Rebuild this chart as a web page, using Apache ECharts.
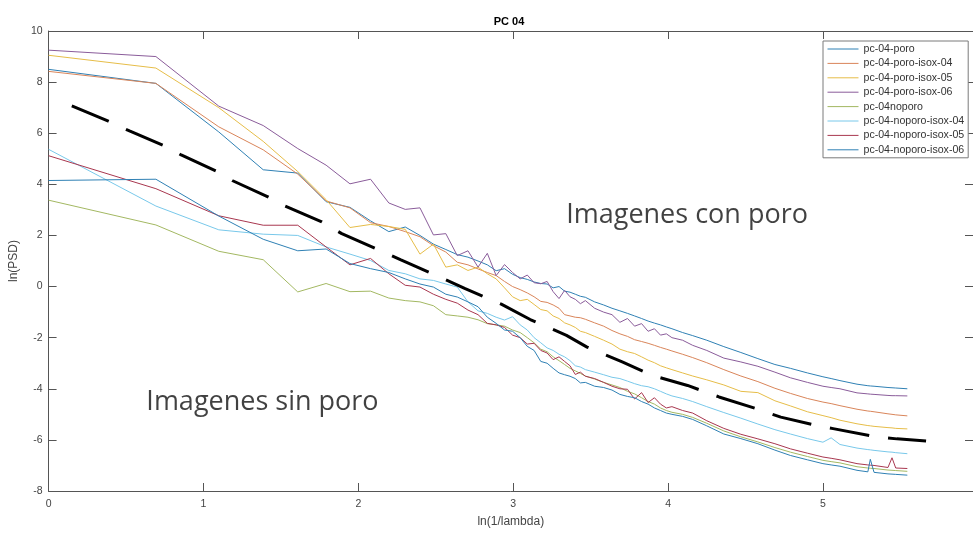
<!DOCTYPE html>
<html>
<head>
<meta charset="utf-8">
<script src="https://cdn.jsdelivr.net/npm/echarts@6/dist/echarts.min.js"></script>
<style>
html,body{margin:0;padding:0;background:#fff;}
#chart{width:973px;height:533px;}
</style>
</head>
<body>
<div id="chart"></div>
<script>
// x positions: ln(1/lambda)
const xs = [0, 0.693, 1.099, 1.386, 1.609, 1.792, 1.946, 2.079, 2.197, 2.303,
  2.398, 2.485, 2.565, 2.639, 2.708, 2.773, 2.833, 2.890, 2.944, 2.996,
  3.045, 3.091, 3.135, 3.178, 3.219, 3.258, 3.296, 3.332, 3.367, 3.401, 3.434, 3.466,
  3.526, 3.584, 3.638, 3.689, 3.738, 3.784, 3.829, 3.871, 3.912, 3.951, 3.989, 4.025, 4.094, 4.159,
  4.25, 4.36, 4.47, 4.58, 4.69, 4.79, 4.90, 5.0, 5.053, 5.11, 5.22, 5.29, 5.306, 5.33, 5.42, 5.446, 5.47, 5.545];

const poro = [8.5, 7.95, 6.05, 4.57, 4.44, 3.32, 3.1, 2.57, 2.15, 2.33,
  2.0, 1.66, 1.45, 1.25, 1.15, 1.0, 0.85, 0.62, 0.7, 0.48,
  0.35, 0.28, 0.18, 0.12, 0.1, -0.05, 0.0, -0.18, -0.22, -0.3, -0.38, -0.42,
  -0.6, -0.72, -0.85, -0.95, -1.05, -1.15, -1.25, -1.35, -1.43, -1.5, -1.58, -1.65, -1.8, -1.92,
  -2.1, -2.35, -2.58, -2.82, -3.05, -3.2, -3.38, -3.53, -3.6, -3.68, -3.82, -3.88, -3.89, -3.9, -3.95, -3.96, -3.97, -4.0];

const poroIsox04 = [8.42, 7.95, 6.25, 5.35, 4.4, 3.35, 3.08, 2.5, 2.35, 2.15,
  1.95, 1.6, 1.35, 0.95, 0.85, 0.69, 0.55, 0.43, 0.2, 0.0,
  -0.12, -0.25, -0.4, -0.58, -0.62, -0.72, -0.85, -1.1, -1.15, -1.2, -1.22, -1.28,
  -1.42, -1.55, -1.72, -1.85, -1.95, -2.08, -2.15, -2.22, -2.3, -2.38, -2.45, -2.52, -2.65, -2.78,
  -2.98, -3.25, -3.5, -3.72, -3.98, -4.18, -4.38, -4.52, -4.58, -4.66, -4.8, -4.87, -4.88, -4.9, -4.98, -5.0, -5.02, -5.06];

const poroIsox05 = [9.05, 8.55, 7.0, 5.68, 4.5, 3.4, 2.31, 2.43, 2.35, 2.24,
  1.27, 1.66, 0.76, 0.85, 0.63, 0.76, 0.5, 0.3, -0.05, -0.4,
  -0.55, -0.5, -0.7, -0.9, -0.95, -1.15, -1.25, -1.42, -1.5, -1.6, -1.75, -1.8,
  -1.95, -2.1, -2.25, -2.45, -2.55, -2.62, -2.75, -2.88, -2.98, -3.1, -3.18, -3.25, -3.38, -3.5,
  -3.65, -3.85, -4.1, -4.15, -4.47, -4.67, -4.9, -5.05, -5.13, -5.23, -5.37, -5.44, -5.45, -5.47, -5.52, -5.53, -5.55, -5.57];

const poroIsox06 = [9.25, 9.0, 7.06, 6.3, 5.4, 4.75, 4.02, 4.2, 3.27, 3.02,
  3.08, 2.02, 2.07, 1.21, 1.40, 0.76, 1.30, 0.43, 0.86, 0.55,
  0.3, 0.45, 0.15, 0.11, 0.2, -0.2, -0.47, -0.15, -0.4, -0.5, -0.67, -0.55,
  -0.85, -1.0, -1.1, -1.4, -1.25, -1.55, -1.45, -1.75, -1.65, -1.9, -1.85, -2.0, -2.1, -2.3,
  -2.5, -2.8, -2.95, -3.12, -3.35, -3.57, -3.75, -3.9, -3.95, -4.0, -4.16, -4.2, -4.21, -4.22, -4.26, -4.27, -4.27, -4.28];

const noporo = [3.38, 2.41, 1.38, 1.05, -0.21, 0.12, -0.2, -0.18, -0.45, -0.55,
  -0.6, -0.75, -1.1, -1.15, -1.2, -1.3, -1.45, -1.5, -1.55, -1.7,
  -1.8, -2.0, -2.2, -2.45, -2.55, -2.75, -2.9, -3.05, -3.2, -3.3, -3.4, -3.5,
  -3.62, -3.75, -3.85, -3.95, -4.1, -4.2, -4.35, -4.5, -4.6, -4.75, -4.85, -4.92, -5.0, -5.12,
  -5.35, -5.65, -5.88, -6.08, -6.3, -6.48, -6.65, -6.8, -6.85, -6.9, -7.05, -7.1, -7.11, -7.12, -7.18, -7.19, -7.2, -7.23];

const noporoIsox04 = [5.37, 3.15, 2.22, 2.05, 2.0, 1.55, 1.27, 1.02, 0.63, 0.5,
  0.3, 0.24, 0.1, -0.02, -0.6, -0.95, -1.05, -1.2, -1.31, -1.18,
  -1.5, -1.7, -2.0, -2.2, -2.4, -2.5, -2.65, -2.75, -2.9, -3.1, -3.15, -3.25,
  -3.35, -3.45, -3.55, -3.6, -3.7, -3.8, -3.88, -3.92, -4.0, -4.1, -4.2, -4.28, -4.38, -4.5,
  -4.7, -4.93, -5.15, -5.38, -5.6, -5.77, -5.95, -6.09, -5.92, -6.18, -6.32, -6.38, -6.39, -6.41, -6.47, -6.48, -6.5, -6.54];

const noporoIsox05 = [5.12, 3.83, 2.77, 2.4, 2.4, 1.55, 0.85, 1.1, 0.5, 0.05,
  -0.02, -0.3, -0.5, -0.65, -0.92, -1.1, -1.44, -1.5, -1.6, -1.9,
  -2.0, -2.25, -2.22, -2.5, -2.6, -2.86, -2.75, -2.93, -3.1, -3.44, -3.35, -3.51,
  -3.6, -3.75, -3.9, -4.0, -4.02, -4.4, -4.15, -4.54, -4.35, -4.6, -4.75, -4.7, -4.85, -4.95,
  -5.25, -5.55, -5.78, -5.96, -6.15, -6.35, -6.52, -6.67, -6.72, -6.78, -6.93, -6.98, -6.99, -7.0, -7.08, -6.7, -7.1, -7.12];

const noporoIsox06 = [4.15, 4.2, 2.76, 1.85, 1.40, 1.47, 0.9, 0.7, 0.55, 0.3,
  0.1, -0.02, -0.3, -0.41, -0.6, -0.79, -1.2, -1.44, -1.7, -1.75,
  -2.0, -2.34, -2.5, -2.93, -3.0, -3.2, -3.38, -3.45, -3.51, -3.6, -3.77, -3.75,
  -3.9, -3.95, -4.05, -4.22, -4.3, -4.35, -4.5, -4.6, -4.75, -4.85, -4.95, -5.0, -5.08, -5.2,
  -5.45, -5.77, -5.95, -6.15, -6.4, -6.61, -6.78, -6.93, -6.98, -7.03, -7.19, -7.25, -6.76, -7.27, -7.33, -7.34, -7.35, -7.38];

// black dashed reference curve
const fitX = [0.15, 0.386, 0.526, 0.76, 0.856, 1.088, 1.189, 1.42, 1.528, 1.764, 1.893, 2.133, 2.275, 2.51, 2.69,
  2.923, 3.11, 3.344, 3.477, 3.704, 3.90, 4.126, 4.329, 4.561, 4.728, 4.966, 5.066, 5.328, 5.478, 5.666];
const fitY = [7.07, 6.47, 6.08, 5.47, 5.15, 4.5, 4.14, 3.5, 3.15, 2.53, 2.07, 1.43, 1.04, 0.42, -0.08,
  -0.69, -1.29, -1.91, -2.37, -2.95, -3.48, -3.87, -4.32, -4.76, -5.11, -5.45, -5.56, -5.86, -5.96, -6.04];

const seriesNames = ['pc-04-poro', 'pc-04-poro-isox-04', 'pc-04-poro-isox-05', 'pc-04-poro-isox-06',
  'pc-04noporo', 'pc-04-noporo-isox-04', 'pc-04-noporo-isox-05', 'pc-04-noporo-isox-06'];
const seriesValues = [poro, poroIsox04, poroIsox05, poroIsox06, noporo, noporoIsox04, noporoIsox05, noporoIsox06];
const seriesColors = ['#2f80b4', '#d9855a', '#e6bd48', '#8a5c9a', '#a3b862', '#78c8ea', '#a8374f', '#2f80b4'];

const annotationText = ['Imagenes con poro', 'Imagenes sin poro'];
const annotationX = [3.339, 0.628];
const annotationY = [2.79, -4.54];

const axisColor = '#555555';
const labelColor = '#444444';
const fontFam = '"Liberation Sans", Arial, sans-serif';

const chart = echarts.init(document.getElementById('chart'), null, {renderer: 'canvas'});

const lineSeries = seriesNames.map((name, i) => ({
  name: name,
  type: 'line',
  data: xs.map((x, j) => [x, seriesValues[i][j]]),
  symbol: 'none',
  showSymbol: false,
  lineStyle: {width: 1, color: seriesColors[i]},
  itemStyle: {color: seriesColors[i]},
  z: 2,
  silent: true
}));

lineSeries.push({
  name: 'fit',
  type: 'line',
  data: fitX.map((x, j) => [x, fitY[j]]),
  symbol: 'none',
  showSymbol: false,
  lineStyle: {width: 3, color: '#000', type: [40, 19], cap: 'butt'},
  z: 3,
  silent: true
});

annotationText.forEach((t, i) => {
  lineSeries.push({
    name: 'ann' + i,
    type: 'scatter',
    data: [[annotationX[i], annotationY[i]]],
    symbolSize: 1,
    itemStyle: {color: 'rgba(0,0,0,0)'},
    silent: true,
    z: 4,
    label: {
      show: true,
      formatter: t,
      position: 'right',
      distance: 0,
      fontSize: 27,
      fontFamily: '"Open Sans", "Noto Sans", sans-serif',
      color: '#111111',
      align: 'left',
      verticalAlign: 'middle'
    }
  });
});

const xMin = 0, xMax = 5.969, yMin = -8, yMax = 10;

const option = {
  animation: false,
  backgroundColor: '#ffffff',
  grid: {left: 46, top: 31, right: 0, bottom: 37, containLabel: false},
  legend: {
    data: seriesNames,
    orient: 'vertical',
    left: 823,
    top: 41,
    padding: [2, 4, 2, 4],
    itemWidth: 31,
    itemHeight: 12,
    itemGap: 2.4,
    backgroundColor: '#ffffff',
    borderColor: '#7a7a7a',
    borderWidth: 1,
    borderRadius: 0,
    selectedMode: false,
    itemStyle: {opacity: 0},
    lineStyle: {width: 1, opacity: 1},
    textStyle: {fontSize: 10.6, fontFamily: fontFam, color: '#333333', lineHeight: 12}
  },
  xAxis: [{
    type: 'value', min: xMin, max: xMax, interval: 1, position: 'bottom',
    axisLine: {show: true, onZero: false, lineStyle: {color: axisColor, width: 1}},
    axisTick: {show: true, inside: true, length: 8, lineStyle: {color: axisColor}},
    axisLabel: {show: true, color: labelColor, fontSize: 10.5, fontFamily: fontFam, margin: 8,
      showMaxLabel: false, formatter: v => (Math.abs(v - Math.round(v)) < 1e-9 ? String(Math.round(v)) : '')},
    splitLine: {show: false},
    name: 'ln(1/lambda)', nameLocation: 'middle', nameGap: 25,
    nameTextStyle: {fontSize: 12, fontFamily: fontFam, color: labelColor}
  }, {
    type: 'value', min: xMin, max: xMax, interval: 1, position: 'top',
    axisLine: {show: true, onZero: false, lineStyle: {color: axisColor, width: 1}},
    axisTick: {show: true, inside: true, length: 8, lineStyle: {color: axisColor}},
    axisLabel: {show: false},
    splitLine: {show: false}
  }],
  yAxis: [{
    type: 'value', min: yMin, max: yMax, interval: 2, position: 'left',
    axisLine: {show: true, onZero: false, lineStyle: {color: axisColor, width: 1}},
    axisTick: {show: true, inside: true, length: 8, lineStyle: {color: axisColor}},
    axisLabel: {show: true, color: labelColor, fontSize: 10.5, fontFamily: fontFam, margin: 6},
    splitLine: {show: false},
    name: 'ln(PSD)', nameLocation: 'middle', nameGap: 19, nameRotate: 90,
    nameTextStyle: {fontSize: 12, fontFamily: fontFam, color: labelColor}
  }, {
    type: 'value', min: yMin, max: yMax, interval: 2, position: 'right',
    axisLine: {show: true, onZero: false, lineStyle: {color: axisColor, width: 1}},
    axisTick: {show: true, inside: true, length: 8, lineStyle: {color: axisColor}},
    axisLabel: {show: false},
    splitLine: {show: false}
  }],
  graphic: [{
    type: 'text',
    x: 509, y: 22,
    silent: true,
    style: {text: 'PC 04', fontSize: 11, fontWeight: 'bold', fontFamily: fontFam, fill: '#000',
      align: 'center', verticalAlign: 'middle'}
  }],
  series: lineSeries
};

chart.setOption(option);
</script>
</body>
</html>
